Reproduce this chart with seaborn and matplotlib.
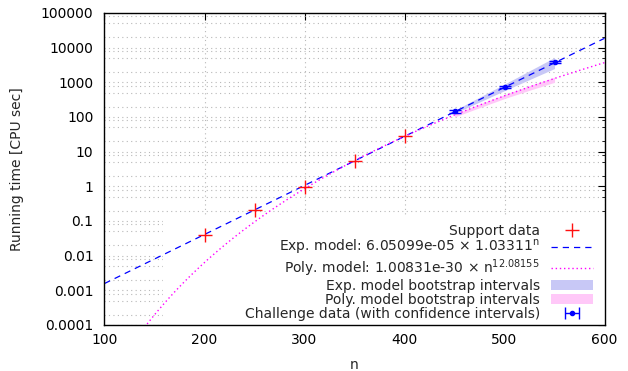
import numpy as np
import matplotlib
matplotlib.use('Agg')
import matplotlib.pyplot as plt
from matplotlib.lines import Line2D
from matplotlib.patches import Patch, Rectangle
from matplotlib.ticker import FixedLocator, NullFormatter
import seaborn as sns

# support data
support_n = [200, 250, 300, 350, 400]
support_t = [0.040, 0.205, 0.95, 5.4, 27.5]

# challenge data with confidence intervals
challenge_n = [450, 500, 550]
challenge_t = [145, 730, 3800]
challenge_lo = [134, 680, 3550]
challenge_hi = [157, 785, 4080]

# bootstrap bands
band_n = [450, 475, 500, 525, 550]
exp_band_lo = [127, 270, 575, 1200, 2500]
exp_band_hi = [156, 372, 890, 2150, 5200]
poly_band_lo = [100, 185, 340, 590, 1000]
poly_band_hi = [122, 235, 440, 800, 1400]

# fitted model parameters (from the legend)
exp_a, exp_b = 6.05099e-05, 1.03311
poly_a, poly_b = 1.00831e-30, 12.08155

y_ticks = [1e-4, 1e-3, 1e-2, 1e-1, 1, 10, 100, 1000, 10000, 100000]
y_labels = ['0.0001', '0.001', '0.01', '0.1', '1', '10', '100', '1000', '10000', '100000']
x_ticks = [100, 200, 300, 400, 500, 600]

if __name__ == "__main__":
    sns.set_style('white')
    plt.rcParams['font.family'] = ['DejaVu Sans']

    fig = plt.figure(figsize=(6.28, 3.71), dpi=100)
    ax = fig.add_axes([0.1664, 0.124, 0.7962, 0.841])

    n = np.linspace(100, 600, 501)
    exp_curve = exp_a * exp_b ** n
    poly_curve = poly_a * n ** poly_b

    blue = '#0000ff'
    magenta = '#ff00ff'
    exp_fill = '#c8c8f6'
    poly_fill = '#ffc8f8'

    ax.fill_between(band_n, exp_band_lo, exp_band_hi, color=exp_fill, lw=0, zorder=1.6)
    ax.fill_between(band_n, poly_band_lo, poly_band_hi, color=poly_fill, lw=0, zorder=1.6)

    sns.lineplot(x=n, y=exp_curve, ax=ax, color=blue, lw=0.9,
                 linestyle=(0, (5, 4)), zorder=2.5)
    sns.lineplot(x=n, y=poly_curve, ax=ax, color=magenta, lw=1.0,
                 linestyle=(0, (1, 2)), zorder=2.5)

    sns.scatterplot(x=support_n, y=support_t, ax=ax, marker='+', s=100,
                    color='#ff1010', linewidth=1.0, zorder=3)

    yerr = [np.array(challenge_t) - np.array(challenge_lo),
            np.array(challenge_hi) - np.array(challenge_t)]
    ax.errorbar(challenge_n, challenge_t, yerr=yerr, fmt='o', color=blue,
                ms=3, capsize=4, elinewidth=1, capthick=1, zorder=3)

    ax.set_yscale('log')
    ax.set_xlim(100, 600)
    ax.set_ylim(1e-4, 1e5)
    ax.set_xticks(x_ticks)
    ax.set_xticklabels([str(v) for v in x_ticks])
    ax.set_yticks(y_ticks)
    ax.set_yticklabels(y_labels)
    minors = [m * 10.0 ** k for k in range(-4, 5) for m in (2, 5, 8)]
    ax.yaxis.set_minor_locator(FixedLocator(minors))
    ax.yaxis.set_minor_formatter(NullFormatter())

    ax.tick_params(which='both', direction='in', top=True, right=True,
                   labelsize=10, colors='black')
    ax.tick_params(which='major', length=5, width=0.8)
    ax.tick_params(which='minor', length=2.5, width=0.6)
    ax.tick_params(axis='y', pad=8)
    ax.tick_params(axis='x', pad=6)
    for s in ax.spines.values():
        s.set_color('black')
        s.set_linewidth(1.0)

    ax.set_axisbelow(True)
    ax.grid(True, which='major', color='#b8b8b8', linestyle=(0, (1, 3)), lw=0.8)
    ax.grid(True, which='minor', axis='y', color='#b8b8b8', linestyle=(0, (1, 3)), lw=0.8)

    # white key background
    ax.add_patch(Rectangle((0.117, 0.0), 0.883, 0.345, transform=ax.transAxes,
                           facecolor='white', edgecolor='none', zorder=1))

    ax.set_xlabel('n', fontsize=10, labelpad=8)
    ax.set_ylabel('Running time [CPU sec]', fontsize=10, labelpad=12)

    handles = [
        Line2D([], [], color='#ff1010', marker='+', ms=10, mew=1.0, linestyle='none'),
        Line2D([], [], color=blue, lw=0.9, linestyle=(0, (5, 4))),
        Line2D([], [], color=magenta, lw=1.0, linestyle=(0, (1, 2))),
        Patch(facecolor=exp_fill, edgecolor='none'),
        Patch(facecolor=poly_fill, edgecolor='none'),
        ax.errorbar([np.nan], [np.nan], xerr=[[1], [1]], fmt='o', color=blue,
                    ms=3, capsize=4, elinewidth=1),
    ]
    labels = [
        'Support data',
        'Exp. model: 6.05099e-05 × 1.03311$^{\\mathrm{n}}$',
        'Poly. model: 1.00831e-30 × n$^{\\mathrm{12.08155}}$',
        'Exp. model bootstrap intervals',
        'Poly. model bootstrap intervals',
        'Challenge data (with confidence intervals)',
    ]
    leg = ax.legend(handles, labels, loc='lower right', bbox_to_anchor=(0.985, 0.0),
                    frameon=False, markerfirst=False, fontsize=10,
                    handlelength=3.0, handletextpad=0.8, labelspacing=0.0,
                    borderpad=0.3, borderaxespad=0.0)

    fig.savefig('out.png', dpi=100)
